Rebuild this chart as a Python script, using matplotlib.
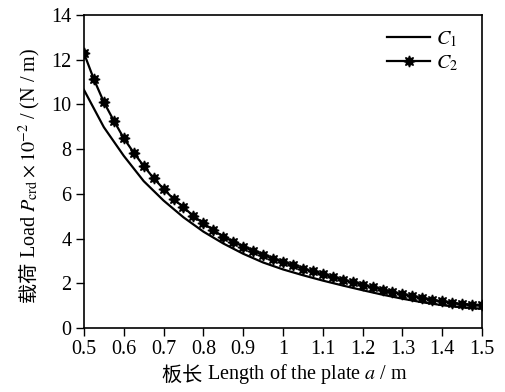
import matplotlib
matplotlib.use("Agg")
import matplotlib.pyplot as plt
import numpy as np

# Plate length a (m)
a_c2 = np.arange(41) * 0.025 + 0.5
load_c2 = [12.29, 11.12, 10.10, 9.27, 8.49, 7.84, 7.25, 6.70, 6.22, 5.77,
           5.40, 5.01, 4.68, 4.38, 4.08, 3.86, 3.64, 3.44, 3.27, 3.09,
           2.95, 2.80, 2.65, 2.53, 2.40, 2.27, 2.15, 2.04, 1.93, 1.82,
           1.71, 1.61, 1.51, 1.42, 1.34, 1.26, 1.19, 1.13, 1.08, 1.05,
           1.03]

a_c1 = np.arange(21) * 0.05 + 0.5
load_c1 = [10.65, 8.98, 7.70, 6.57, 5.70, 4.95, 4.31, 3.78, 3.32, 2.93,
           2.62, 2.36, 2.12, 1.90, 1.69, 1.49, 1.31, 1.15, 1.02, 0.92,
           0.86]

x_ticks = [0.5, 0.6, 0.7, 0.8, 0.9, 1.0, 1.1, 1.2, 1.3, 1.4, 1.5]
x_tick_labels = ["0.5", "0.6", "0.7", "0.8", "0.9", "1", "1.1", "1.2", "1.3", "1.4", "1.5"]
y_ticks = [0, 2, 4, 6, 8, 10, 12, 14]

plt.rcParams["font.family"] = ["Liberation Serif", "Noto Sans CJK SC"]
plt.rcParams["mathtext.fontset"] = "stix"
FS = 14.5

fig = plt.figure(figsize=(5.05, 3.92), dpi=100)
ax = fig.add_axes([0.1663, 0.1633, 0.7882, 0.7984])

ax.plot(a_c1, load_c1, color="black", linewidth=1.6, label="$C_1$")
ax.plot(a_c2, load_c2, color="black", linewidth=1.6, marker=(8, 1, 0),
        markersize=8, label="$C_2$")

ax.set_xlim(0.5, 1.5)
ax.set_ylim(0, 14)
ax.set_xticks(x_ticks)
ax.set_xticklabels(x_tick_labels)
ax.set_yticks(y_ticks)
ax.tick_params(direction="out", length=6, width=1, labelsize=FS, pad=3)
for s in ax.spines.values():
    s.set_linewidth(1.2)

# latin part as axis labels, chinese part attached next to them (mathtext has no font fallback)
xl = ax.set_xlabel("Length of the plate $a$ / m", fontsize=FS, labelpad=2)
yl = ax.set_ylabel("Load $P_{\\mathrm{crd}}\\times10^{-2}$ / (N / m)", fontsize=FS, labelpad=6)
xl.set_x(0.56)
yl.set_y(0.56)
ax.annotate("板长 ", xy=(0, 0.45), xycoords=xl, ha="right", va="center",
            fontsize=FS, family="Noto Sans CJK SC")
ax.annotate("载荷 ", xy=(0.55, 0), xycoords=yl, ha="center", va="top",
            rotation=90, fontsize=FS, family="Noto Sans CJK SC")

ax.legend(loc="upper right", frameon=False, fontsize=FS, handlelength=2.1,
          handletextpad=0.3, labelspacing=0.25, borderaxespad=0.3,
          bbox_to_anchor=(0.975, 1.0))

fig.savefig("out.png", dpi=100)
